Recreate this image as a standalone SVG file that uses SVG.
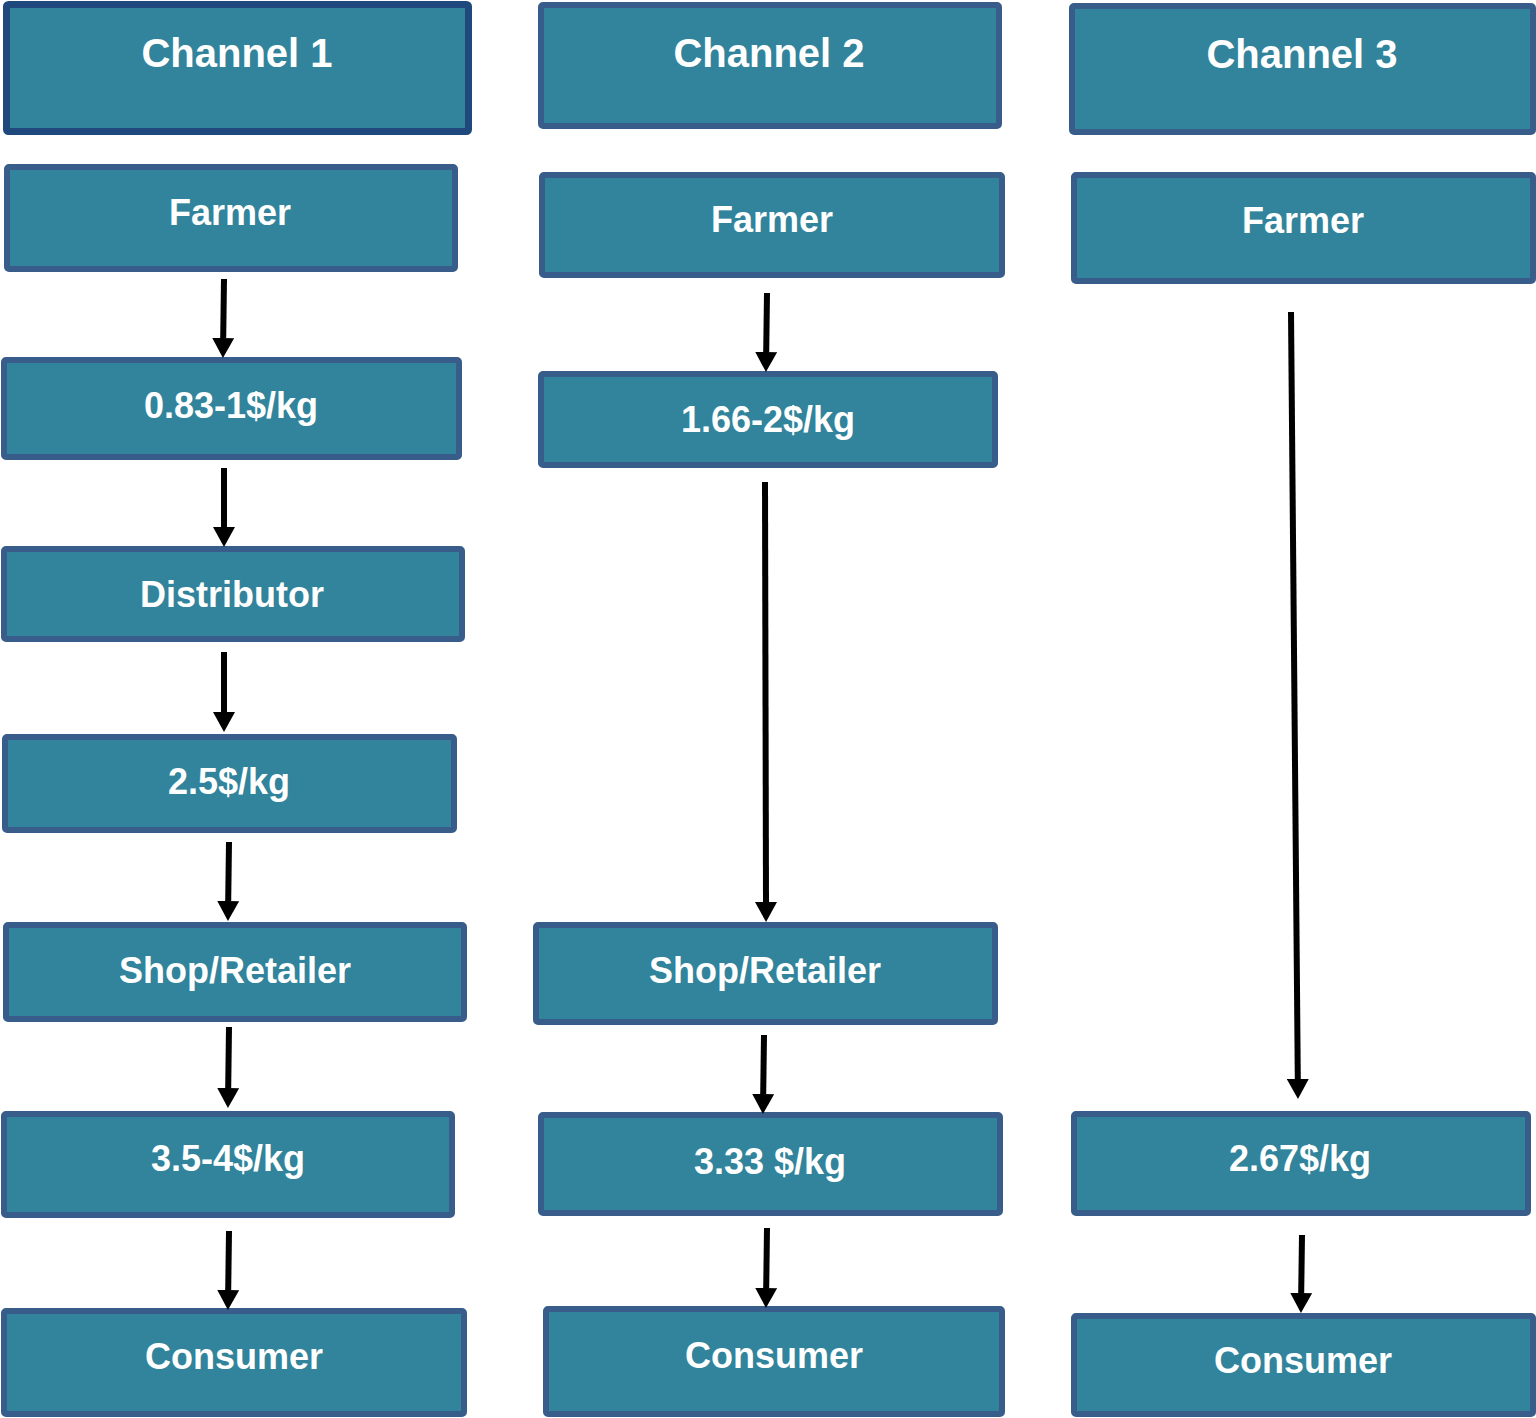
<svg xmlns="http://www.w3.org/2000/svg" width="1536" height="1418" viewBox="0 0 1536 1418">
<defs>
<style>
.box{fill:#31849B;stroke:#385D8A;stroke-width:6}
.hdr{fill:#31849B;stroke:#1F497D;stroke-width:7}
.t{fill:#fff;font-family:"Liberation Sans",Arial,sans-serif;font-weight:bold;font-size:36px;text-anchor:middle}
.th{font-size:40px}
.c{stroke:#000;stroke-width:6;fill:none;marker-end:url(#ah)}
</style>
<marker id="ah" viewBox="0 0 20 22" markerWidth="20" markerHeight="22" markerUnits="userSpaceOnUse" refX="0" refY="11" orient="auto">
<path d="M0,0 L20,11 L0,22 z" fill="#000"/>
</marker>
</defs>
<rect width="1536" height="1418" fill="#fff"/>

<g id="ch1"><rect class="hdr" x="6.5" y="4.5" width="462" height="127" rx="2"/><text class="t th" x="237" y="67">Channel 1</text></g>
<g id="c1-farmer"><rect class="box" x="7" y="167" width="448" height="102" rx="2"/><text class="t" x="230" y="225">Farmer</text></g>
<g id="c1-p1"><rect class="box" x="4" y="360" width="455" height="97" rx="2"/><text class="t" x="231" y="418">0.83-1$/kg</text></g>
<g id="c1-dist"><rect class="box" x="4" y="549" width="458" height="90" rx="2"/><text class="t" x="232" y="607">Distributor</text></g>
<g id="c1-p2"><rect class="box" x="5" y="737" width="449" height="93" rx="2"/><text class="t" x="229" y="794">2.5$/kg</text></g>
<g id="c1-shop"><rect class="box" x="6" y="925" width="458" height="94" rx="2"/><text class="t" x="235" y="983">Shop/Retailer</text></g>
<g id="c1-p3"><rect class="box" x="4" y="1114" width="448" height="101" rx="2"/><text class="t" x="228" y="1171">3.5-4$/kg</text></g>
<g id="c1-cons"><rect class="box" x="4" y="1311" width="460" height="103" rx="2"/><text class="t" x="234" y="1369">Consumer</text></g>

<g id="ch2"><rect class="box" x="541" y="5" width="458" height="121" rx="2"/><text class="t th" x="769" y="67">Channel 2</text></g>
<g id="c2-farmer"><rect class="box" x="542" y="175" width="460" height="100" rx="2"/><text class="t" x="772" y="232">Farmer</text></g>
<g id="c2-p1"><rect class="box" x="541" y="374" width="454" height="91" rx="2"/><text class="t" x="768" y="432">1.66-2$/kg</text></g>
<g id="c2-shop"><rect class="box" x="536" y="925" width="459" height="97" rx="2"/><text class="t" x="765" y="983">Shop/Retailer</text></g>
<g id="c2-p2"><rect class="box" x="541" y="1115" width="459" height="98" rx="2"/><text class="t" x="770" y="1174">3.33 $/kg</text></g>
<g id="c2-cons"><rect class="box" x="546" y="1309" width="456" height="105" rx="2"/><text class="t" x="774" y="1368">Consumer</text></g>

<g id="ch3"><rect class="box" x="1072" y="6" width="461" height="126" rx="2"/><text class="t th" x="1302" y="68">Channel 3</text></g>
<g id="c3-farmer"><rect class="box" x="1074" y="175" width="459" height="106" rx="2"/><text class="t" x="1303" y="233">Farmer</text></g>
<g id="c3-p1"><rect class="box" x="1074" y="1114" width="454" height="99" rx="2"/><text class="t" x="1300" y="1171">2.67$/kg</text></g>
<g id="c3-cons"><rect class="box" x="1074" y="1316" width="459" height="98" rx="2"/><text class="t" x="1303" y="1373">Consumer</text></g>

<g id="connectors">
<line class="c" x1="224" y1="279" x2="223.2" y2="338"/>
<line class="c" x1="224" y1="468" x2="224" y2="527"/>
<line class="c" x1="224" y1="652" x2="224" y2="712"/>
<line class="c" x1="229" y1="842" x2="228.2" y2="901"/>
<line class="c" x1="229" y1="1027" x2="228.2" y2="1088"/>
<line class="c" x1="229" y1="1231" x2="228.2" y2="1290"/>
<line class="c" x1="767" y1="293" x2="766.2" y2="352"/>
<line class="c" x1="765" y1="482" x2="766" y2="902"/>
<line class="c" x1="764" y1="1035" x2="763.2" y2="1094"/>
<line class="c" x1="767" y1="1228" x2="766.2" y2="1288"/>
<line class="c" x1="1291" y1="312" x2="1297.8" y2="1079"/>
<line class="c" x1="1302" y1="1235" x2="1301.2" y2="1293"/>
</g>
</svg>
